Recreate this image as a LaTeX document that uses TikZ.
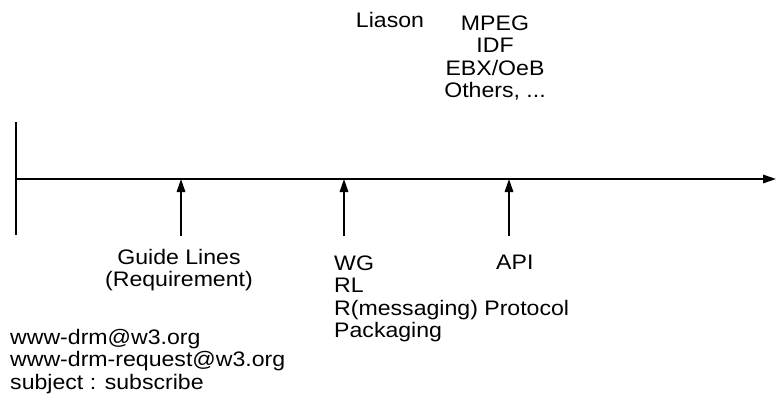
\documentclass[tikz,border=0pt]{standalone}
\usepackage{fontspec}
\setmainfont{Liberation Sans}[FakeStretch=1.1]
\usetikzlibrary{arrows.meta}
\begin{document}
\begin{tikzpicture}[x=1pt,y=-1pt,
  axisline/.style={line width=1.6pt},
  tip/.style={-{Triangle[length=13pt,width=8.5pt]}},
  lbl/.style={inner sep=0pt,font=\fontsize{21}{22.5}\selectfont},
]
\useasboundingbox (0,0) rectangle (776,407);
% time axis and its starting tick
\coordinate (start) at (16,179);
\coordinate (end) at (776,179);
\coordinate (ticktop) at (16,122);
\coordinate (tickbot) at (16,235);
\draw[axisline] (ticktop) -- (tickbot);
\draw[axisline,tip] (start) -- (end);
% milestones
\coordinate (m1a) at (181,236); \coordinate (m1b) at (181,179);
\coordinate (m2a) at (344,236); \coordinate (m2b) at (344,179);
\coordinate (m3a) at (509,236); \coordinate (m3b) at (509,179);
\draw[axisline,tip] (m1a) -- (m1b);
\draw[axisline,tip] (m2a) -- (m2b);
\draw[axisline,tip] (m3a) -- (m3b);
% labels above the axis (multi-line nodes sit on the baseline of their last line)
\node[lbl,anchor=base] (liason) at (390,27) {Liason};
\node[lbl,anchor=base,align=center] (liaisons) at (495,97.5)
  {MPEG\\IDF\\EBX/OeB\\Others, ...};
% labels below the axis
\node[lbl,anchor=base,align=center] (guide) at (179,286.5)
  {Guide Lines\\(Requirement)};
\node[lbl,anchor=base west,align=left] (wg) at (334,337.5)
  {WG\\RL\\R(messaging) Protocol\\Packaging};
\node[lbl,anchor=base west] (api) at (496,269) {API};
\node[lbl,anchor=base west,align=left] (lists) at (10,389)
  {www-drm@w3.org\\www-drm-request@w3.org\\subject : subscribe};
\end{tikzpicture}
\end{document}
